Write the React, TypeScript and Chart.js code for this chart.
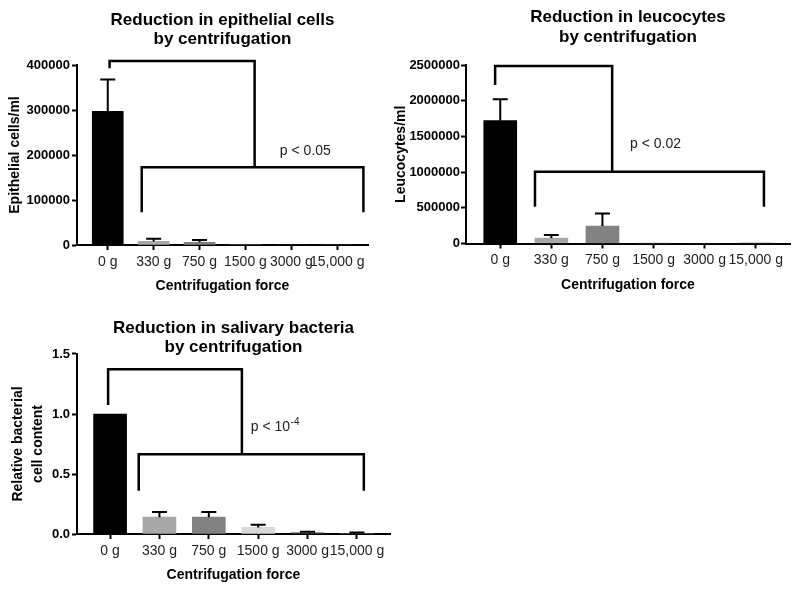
import React, { useEffect, useRef } from "react";
import { Chart, registerables } from "chart.js";

Chart.register(...registerables);

const FONT = '"Liberation Sans", Arial, Helvetica, sans-serif';

// ---------- data ----------
const categories = ["0 g", "330 g", "750 g", "1500 g", "3000 g", "15,000 g"];
const barColors = ["#000000", "#A8A8A8", "#828282", "#D8D8D8", "#3A3A3A", "#555555"];
const xAxisTitle = "Centrifugation force";

// Epithelial cells
const epithelialTitle = ["Reduction in epithelial cells", "by centrifugation"];
const epithelialYTitle = "Epithelial cells/ml";
const epithelialMeans = [297000, 8000, 6000, 0, 0, 0];
const epithelialErrors = [71000, 6000, 5000, 0, 0, 0];
const epithelialTicks = [0, 100000, 200000, 300000, 400000];
const epithelialBracket = { left: 0.04, leftLow: 393000, top: 409000, join: 3.2, mid: 173000, from: 0.74, to: 5.57, low: 73000 };
const epithelialP = { x: 3.75, y: 209000, text: "p < 0.05", sup: "" };

// Leucocytes
const leucocyteTitle = ["Reduction in leucocytes", "by centrifugation"];
const leucocyteYTitle = "Leucocytes/ml";
const leucocyteMeans = [1720000, 75000, 245000, 10000, 0, 5000];
const leucocyteErrors = [300000, 45000, 175000, 0, 0, 0];
const leucocyteTicks = [0, 500000, 1000000, 1500000, 2000000, 2500000];
const leucocyteBracket = { left: -0.1, leftLow: 2220000, top: 2486000, join: 2.19, mid: 1006000, from: 0.68, to: 5.16, low: 515000 };
const leucocyteP = { x: 2.54, y: 1394000, text: "p < 0.02", sup: "" };

// Salivary bacteria
const bacteriaTitle = ["Reduction in salivary bacteria", "by centrifugation"];
const bacteriaYTitle = ["Relative bacterial", "cell content"];
const bacteriaMeans = [1.0, 0.14, 0.14, 0.055, 0.01, 0.005];
const bacteriaErrors = [0, 0.043, 0.043, 0.022, 0.008, 0.007];
const bacteriaTicks = [0, 0.5, 1.0, 1.5];
const bacteriaBracket = { left: -0.04, leftLow: 1.075, top: 1.372, join: 2.67, mid: 0.664, from: 0.58, to: 5.14, low: 0.36 };
const bacteriaP = { x: 2.85, y: 0.89, text: "p < 10", sup: "-4" };

// ---------- chart building ----------
type Spec = {
  title: string[];
  yTitle: string | string[];
  means: number[];
  errors: number[];
  yTicks: number[];
  yFmt: (v: number) => string;
  bracket: any;
  p: any;
  barWidth: number;
  padRight: number;
  titleTop: number;
  titleBottom: number;
  xHeight: number;
  xTitleBottom: number;
  yWidth: number;
  yTitleTop: number;
  yTitleLH: number;
  yTickPad: number;
};

function overlayPlugin(spec: Spec) {
  return {
    id: "overlay",
    afterDatasetsDraw(chart: any) {
      const { ctx, scales } = chart;
      const xs = scales.x;
      const ys = scales.y;
      const X = (v: number) => xs.getPixelForValue(v);
      const Y = (v: number) => ys.getPixelForValue(v);
      ctx.save();
      ctx.strokeStyle = "#000";
      ctx.lineCap = "butt";
      ctx.lineJoin = "miter";
      // error bars (upper only)
      ctx.lineWidth = 2;
      spec.means.forEach((m, i) => {
        const e = spec.errors[i];
        if (!e) return;
        const px = X(i);
        const y0 = Y(m);
        const y1 = Y(m + e);
        ctx.beginPath();
        ctx.moveTo(px, y0);
        ctx.lineTo(px, y1);
        ctx.moveTo(px - 7.5, y1);
        ctx.lineTo(px + 7.5, y1);
        ctx.stroke();
      });
      // significance bracket
      const b = spec.bracket;
      ctx.lineWidth = 2.5;
      ctx.beginPath();
      ctx.moveTo(X(b.left), Y(b.leftLow));
      ctx.lineTo(X(b.left), Y(b.top));
      ctx.lineTo(X(b.join), Y(b.top));
      ctx.lineTo(X(b.join), Y(b.mid));
      ctx.moveTo(X(b.from), Y(b.low));
      ctx.lineTo(X(b.from), Y(b.mid));
      ctx.lineTo(X(b.to), Y(b.mid));
      ctx.lineTo(X(b.to), Y(b.low));
      ctx.stroke();
      // p value
      const p = spec.p;
      ctx.fillStyle = "#222";
      ctx.font = `14px ${FONT}`;
      ctx.textBaseline = "middle";
      ctx.textAlign = "left";
      ctx.fillText(p.text, X(p.x), Y(p.y));
      if (p.sup) {
        const w = ctx.measureText(p.text).width;
        ctx.font = `10px ${FONT}`;
        ctx.fillText(p.sup, X(p.x) + w + 0.5, Y(p.y) - 5);
      }
      ctx.restore();
    },
  };
}

function makeConfig(spec: Spec): any {
  return {
    type: "bar",
    data: {
      datasets: [
        {
          data: spec.means.map((v, i) => ({ x: i, y: v })),
          backgroundColor: barColors,
          borderWidth: 0,
          barThickness: spec.barWidth,
        },
      ],
    },
    options: {
      animation: false,
      responsive: false,
      devicePixelRatio: 1,
      layout: { padding: { left: 0, top: 0, right: spec.padRight, bottom: 0 } },
      plugins: {
        legend: { display: false },
        tooltip: { enabled: false },
        title: {
          display: true,
          text: spec.title,
          fullSize: false,
          color: "#000",
          font: { family: FONT, size: 17, weight: "bold", lineHeight: 1.15 },
          padding: { top: spec.titleTop, bottom: spec.titleBottom },
        },
      },
      scales: {
        x: {
          type: "linear",
          min: -0.67,
          max: 5.67,
          offset: false,
          afterBuildTicks: (s: any) => {
            s.ticks = categories.map((_, i) => ({ value: i }));
          },
          afterFit: (s: any) => {
            s.height = spec.xHeight;
          },
          ticks: {
            callback: (v: number) => categories[v] ?? "",
            color: "#222",
            font: { family: FONT, size: 14 },
            padding: 3.5,
            maxRotation: 0,
            autoSkip: false,
          },
          grid: {
            display: true,
            offset: false,
            drawOnChartArea: false,
            drawTicks: true,
            tickLength: 5,
            tickWidth: 2,
            tickColor: "#000",
            color: "#000",
          },
          border: { display: true, color: "#000", width: 2 },
          title: {
            display: true,
            text: xAxisTitle,
            color: "#000",
            font: { family: FONT, size: 14, weight: "bold" },
            padding: { top: 0, bottom: spec.xTitleBottom },
          },
        },
        y: {
          min: 0,
          max: spec.yTicks[spec.yTicks.length - 1],
          afterBuildTicks: (s: any) => {
            s.ticks = spec.yTicks.map((v) => ({ value: v }));
          },
          afterFit: (s: any) => {
            s.width = spec.yWidth;
          },
          ticks: {
            callback: (v: number) => spec.yFmt(v),
            color: "#000",
            font: { family: FONT, size: 13, weight: "bold" },
            padding: spec.yTickPad,
          },
          grid: {
            display: true,
            drawOnChartArea: false,
            drawTicks: true,
            tickLength: 5,
            tickWidth: 2,
            tickColor: "#000",
            color: "#000",
          },
          border: { display: true, color: "#000", width: 2 },
          title: {
            display: true,
            text: spec.yTitle,
            color: "#000",
            font: { family: FONT, size: 14, weight: "bold", lineHeight: spec.yTitleLH },
            padding: { top: spec.yTitleTop, bottom: 0 },
          },
        },
      },
    },
    plugins: [overlayPlugin(spec)],
  };
}

const intFmt = (v: number) => String(v);
const decFmt = (v: number) => v.toFixed(1);

const epithelialSpec: Spec = {
  title: epithelialTitle,
  yTitle: epithelialYTitle,
  means: epithelialMeans,
  errors: epithelialErrors,
  yTicks: epithelialTicks,
  yFmt: intFmt,
  bracket: epithelialBracket,
  p: epithelialP,
  barWidth: 31,
  padRight: 32,
  titleTop: 10.2,
  titleBottom: 15.7,
  xHeight: 55,
  xTitleBottom: 5.6,
  yWidth: 77,
  yTitleTop: 6.6,
  yTitleLH: 1.2,
  yTickPad: 2,
};

const leucocyteSpec: Spec = {
  title: leucocyteTitle,
  yTitle: leucocyteYTitle,
  means: leucocyteMeans,
  errors: leucocyteErrors,
  yTicks: leucocyteTicks,
  yFmt: intFmt,
  bracket: leucocyteBracket,
  p: leucocyteP,
  barWidth: 33,
  padRight: 10,
  titleTop: 7.5,
  titleBottom: 18.4,
  xHeight: 56.5,
  xTitleBottom: 6.6,
  yWidth: 76,
  yTitleTop: 2.6,
  yTitleLH: 1.2,
  yTickPad: 1,
};

const bacteriaSpec: Spec = {
  title: bacteriaTitle,
  yTitle: bacteriaYTitle,
  means: bacteriaMeans,
  errors: bacteriaErrors,
  yTicks: bacteriaTicks,
  yFmt: decFmt,
  bracket: bacteriaBracket,
  p: bacteriaP,
  barWidth: 33,
  padRight: 10,
  titleTop: 18.2,
  titleBottom: -3.3,
  xHeight: 57,
  xTitleBottom: 7.6,
  yWidth: 77,
  yTitleTop: 8,
  yTitleLH: 20 / 14,
  yTickPad: 2,
};

function ChartBox(props: { left: number; top: number; width: number; height: number; spec: Spec }) {
  const { left, top, width, height, spec } = props;
  const ref = useRef<HTMLCanvasElement | null>(null);
  useEffect(() => {
    if (!ref.current) return;
    const chart = new Chart(ref.current, makeConfig(spec));
    return () => chart.destroy();
  }, []);
  return (
    <canvas
      ref={ref}
      width={width}
      height={height}
      style={{ position: "absolute", left, top, width, height }}
    />
  );
}

export default function App() {
  return (
    <div
      style={{
        position: "absolute",
        left: 0,
        top: 0,
        width: 800,
        height: 591,
        background: "#fff",
        overflow: "hidden",
      }}
    >
      <ChartBox left={0} top={0} width={400} height={300} spec={epithelialSpec} />
      <ChartBox left={390} top={0} width={410} height={300} spec={leucocyteSpec} />
      <ChartBox left={0} top={300} width={400} height={291} spec={bacteriaSpec} />
    </div>
  );
}
